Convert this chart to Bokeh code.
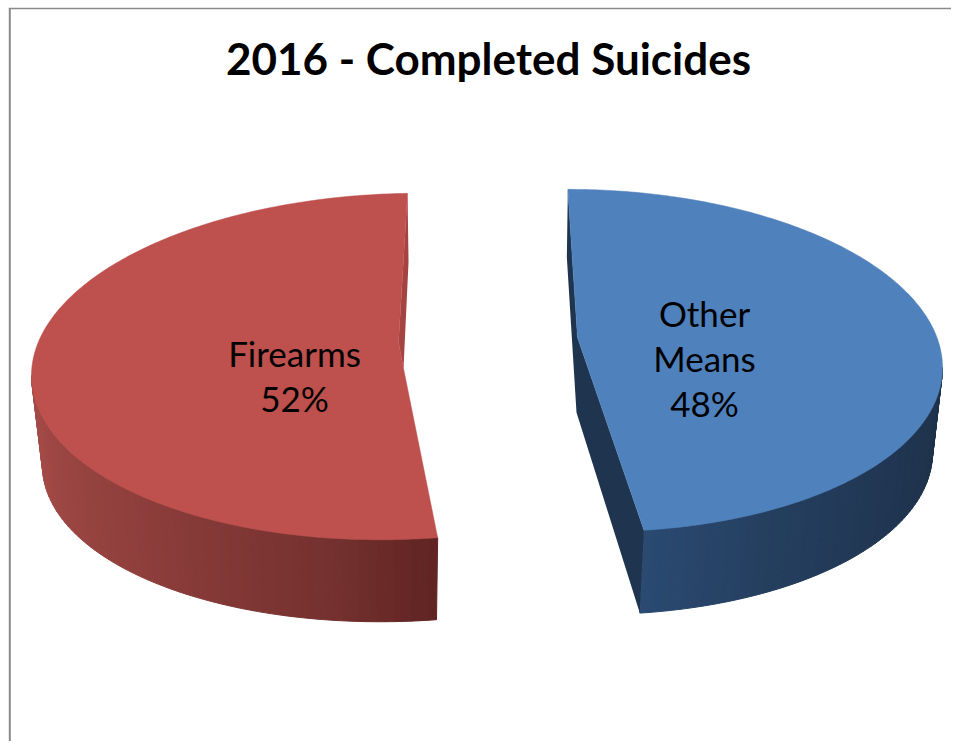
import numpy as np
from bokeh.plotting import figure
from bokeh.models import Range1d
from bokeh.core.properties import value
from bokeh.embed import file_html
from bokeh.resources import INLINE

# ---- chart data ----
title = "2016 - Completed Suicides"
categories = ["Firearms", "Other Means"]
shares = [52, 48]
label_lines = [["Firearms", "52%"], ["Other", "Means", "48%"]]
top_colors = ["#BE504D", "#4F81BD"]
cut_colors = ["#A44442", "#1F354F"]

W, H = 951, 741
OX, OY = 0, 0


def rim(t_deg, cx, cy, a, b, s):
    t = np.radians(t_deg)
    return cx + a * np.cos(t) - OX, cy - b * np.sin(t) + s * np.cos(t) - OY


def mix(stops, f):
    pos = [p for p, _ in stops]
    rgb = [[int(c[i:i + 2], 16) for i in (1, 3, 5)] for _, c in stops]
    vals = [np.interp(f, pos, [c[k] for c in rgb]) for k in range(3)]
    return "#%02x%02x%02x" % tuple(int(round(v)) for v in vals)


p = figure(width=W, height=H, output_backend="svg", toolbar_location=None,
           x_range=Range1d(0, W), y_range=Range1d(H, 0), min_border=0)
p.axis.visible = False
p.grid.visible = False
p.outline_line_color = None
p.background_fill_color = "white"
p.border_fill_color = "white"

# chart frame
p.line([9.3, 9.3], [H, 8], line_color="#8a8a8a", line_width=2)
p.line([8.3, W], [8, 8], line_color="#8a8a8a", line_width=1.5)

# slice geometry: top rim, bottom rim (ellipse parameters)
red_top = (399, 366, 368, 173, -9)
red_bot = (399, 456, 357, 165, -9)
blue_top = (583, 360, 359, 171, 7)
blue_bot = (580, 446, 352, 168, 6)

red_start = 88.75
red_end = red_start + shares[0] / 100 * 360
blue_start = 92.5
blue_end = blue_start - shares[1] / 100 * 360

red_grad = [(0.0, "#A84D4A"), (0.45, "#8F3F3C"), (0.8, "#773230"), (1.0, "#602422")]
blue_grad = [(0.0, "#2A4A72"), (0.25, "#253F60"), (0.7, "#1F344F"), (1.0, "#1E3148")]


def side(tA, tB, top, bot, grad, n=70):
    ts = np.linspace(tA, tB, n + 1)
    xs, ys, cs = [], [], []
    for i in range(n):
        x0, y0 = rim(ts[i], *top)
        x1, y1 = rim(ts[i + 1], *top)
        x2, y2 = rim(ts[i + 1], *bot)
        x3, y3 = rim(ts[i], *bot)
        xs.append([x0, x1, x2, x3])
        ys.append([y0, y1, y2, y3])
        cs.append(mix(grad, (i + 0.5) / n))
    p.patches(xs, ys, fill_color=cs, line_color=cs, line_width=1)


def face(start, end, tail, top, color):
    ts = np.linspace(start, end, 240)
    x, y = rim(ts, *top)
    p.patch(list(x) + [q[0] - OX for q in tail], list(y) + [q[1] - OY for q in tail],
            fill_color=color, line_color=color, line_width=0.5)


# red slice
red_apex = (403, 368)
red_notch = (red_apex[0] - 5, red_apex[1] - 26)
side(180, red_end, red_top, red_bot, red_grad)
rx, ry = rim(red_start, *red_top)
p.patch([rx, rx + 1, red_apex[0] - OX, red_notch[0] - OX],
        [ry, ry + 69, red_apex[1] - OY, red_notch[1] - OY],
        fill_color=cut_colors[0], line_color=None)
face(red_start, red_end, [red_apex, red_notch], red_top, top_colors[0])

# blue slice
blue_apex = (577, 337)
side(blue_end, 0, blue_top, blue_bot, blue_grad)
bx, by = rim(blue_start, *blue_top)
ex, ey = rim(blue_end, *blue_top)
fx, fy = rim(blue_end, *blue_bot)
p.patch([bx, bx - 1, blue_apex[0] - 1 - OX, fx, ex, blue_apex[0] - OX],
        [by, by + 68, blue_apex[1] + 75 - OY, fy, ey, blue_apex[1] - OY],
        fill_color=cut_colors[1], line_color=None)
face(blue_start, blue_end, [blue_apex], blue_top, top_colors[1])

# texts
FONT = value("Lato")
p.text([488 - OX], [57 - OY], text=[title], text_font=FONT, text_font_size="44px",
       text_font_style="bold", text_color="black", text_align="center", text_baseline="middle")
anchors = [(294, 352), (704, 312)]
for (ax, ay), lines in zip(anchors, label_lines):
    for i, line in enumerate(lines):
        p.text([ax - OX], [ay + i * 45 - OY], text=[line], text_font=FONT, text_font_size="35px",
               text_color="black", text_align="center", text_baseline="middle")

open("out.html", "w").write(file_html(p, INLINE))
